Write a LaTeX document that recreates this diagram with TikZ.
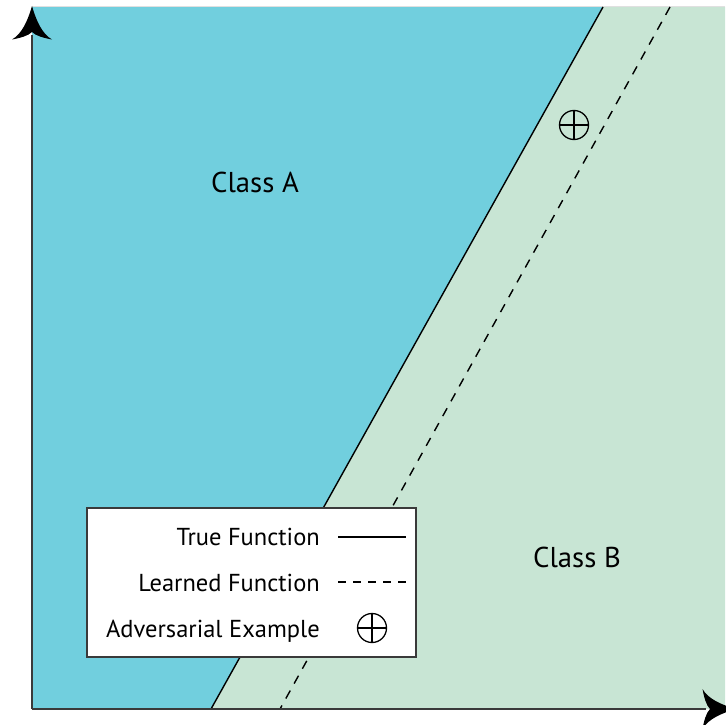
\documentclass[tikz,border=0pt]{standalone}
\usepackage{fontspec}
\setmainfont{PT Sans}
\definecolor{clsA}{HTML}{71CFDE}
\definecolor{clsB}{HTML}{C8E5D4}
\definecolor{axisgray}{HTML}{3A3A3A}
\tikzset{
  truefn/.style={draw=black, line width=1.4pt},
  learnfn/.style={draw=black, line width=1.4pt, dash pattern=on 9pt off 8pt},
  advx/.style={draw=black, line width=1.3pt},
  axisline/.style={draw=axisgray, line width=2.2pt},
  arrowhd/.style={fill=black},
  legendbox/.style={draw=axisgray, line width=1.6pt, fill=white},
  legtext/.style={font=\fontsize{24.5}{28}\selectfont, inner sep=0pt, anchor=base east},
  classtext/.style={font=\fontsize{28.7}{33}\selectfont, inner sep=0pt, anchor=base west}
}
\newcommand{\myarrowhead}{(0,0) .. controls (4,14) and (10,28) .. (20,33.5) .. controls (12,32) and (4,30) .. (0,26) .. controls (-4,30) and (-12,32) .. (-20,33.5) .. controls (-10,28) and (-4,14) .. (0,0) -- cycle}
\begin{document}
\begin{tikzpicture}[x=1pt,y=-1pt]
\useasboundingbox (0,0) rectangle (725,725);
\fill[white] (0,0) rectangle (725,725);
% regions
\coordinate (ttop) at (603,7);
\coordinate (tbot) at (211,709);
\coordinate (ltop) at (670,7);
\coordinate (lbot) at (280,709);
\fill[clsA] (32,7) -- (ttop) -- (tbot) -- (32,709) -- cycle;
\fill[clsB] (ttop) -- (725,7) -- (725,709) -- (tbot) -- cycle;
\draw[draw=black!12, line width=1.5pt] (32,6.5) -- (725,6.5);
% boundaries
\draw[truefn] (ttop) -- (tbot);
\draw[learnfn] (ltop) -- (lbot);
% adversarial example
\node[circle, advx, minimum size=29pt, inner sep=0pt] (adv) at (574,125) {};
\draw[advx] (adv.north) -- (adv.south) (adv.west) -- (adv.east);
% labels
\node[classtext] (clsAlbl) at (211,192) {Class A};
\node[classtext] (clsBlbl) at (533,567) {Class B};
% axes
\coordinate (origin) at (32,709);
\coordinate (ytip) at (32,6);
\coordinate (xtip) at (736,709);
\draw[axisline] (origin) -- (32,35);
\draw[axisline] (origin) -- (706,709);
\fill[arrowhd, shift={(ytip)}] \myarrowhead;
\fill[arrowhd, shift={(xtip)}, rotate=-90] \myarrowhead;
% legend
\draw[legendbox] (87,508) rectangle (416,657);
\node[legtext] (l1) at (320,545) {True Function};
\node[legtext] (l2) at (320,591) {Learned Function};
\node[legtext] (l3) at (320,637) {Adversarial Example};
\coordinate (s1a) at (338,537);
\coordinate (s1b) at (406,537);
\coordinate (s2a) at (338,582);
\coordinate (s2b) at (406,582);
\draw[truefn, line width=1.2pt] (s1a) -- (s1b);
\draw[learnfn, line width=1.2pt, dash pattern=on 8pt off 7pt] (s2a) -- (s2b);
\node[circle, advx, minimum size=29pt, inner sep=0pt] (advleg) at (372,628) {};
\draw[advx] (advleg.north) -- (advleg.south) (advleg.west) -- (advleg.east);
\end{tikzpicture}
\end{document}
